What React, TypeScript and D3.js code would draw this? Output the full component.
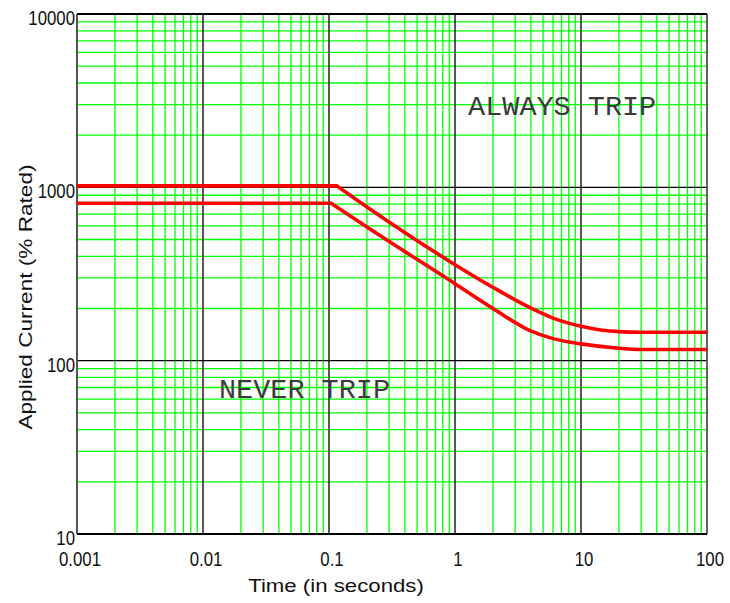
import React from "react";
import * as d3 from "d3";

const xTickValues = [0.001, 0.01, 0.1, 1, 10, 100];
const xTickLabels = ["0.001", "0.01", "0.1", "1", "10", "100"];
const yTickValues = [10, 100, 1000, 10000];
const yTickLabels = ["10", "100", "1000", "10000"];

// Upper trip curve (time s, current %)
const upperTime = [0.001, 0.115, 0.2, 1, 1.98, 3.95, 6, 10, 20, 30, 100];
const upperCurrent = [1020, 1020, 771, 358, 266, 202, 176, 158, 147, 146, 146];
// Lower trip curve
const lowerTime = [0.001, 0.104, 0.2, 1, 1.98, 3.94, 6, 10, 20, 30, 100];
const lowerCurrent = [810, 810, 590, 278, 201, 149, 134, 125, 118, 116, 116];

const annotations = [
  { text: "ALWAYS TRIP", t: 1.27, i: 2600 },
  { text: "NEVER TRIP", t: 0.0134, i: 61 },
];

const W = 730;
const H = 603;
const margin = { left: 77, right: 23, top: 14, bottom: 69 };

export default function App() {
  const x = d3
    .scaleLog()
    .domain([0.001, 100])
    .range([margin.left, W - margin.right]);
  const y = d3
    .scaleLog()
    .domain([10, 10000])
    .range([H - margin.bottom, margin.top]);

  const minorX = x.ticks().filter((v) => !xTickValues.some((m) => Math.abs(v / m - 1) < 1e-6));
  const minorY = y.ticks().filter((v) => !yTickValues.some((m) => Math.abs(v / m - 1) < 1e-6));

  const mono = d3
    .line<[number, number]>()
    .x((d) => x(d[0]))
    .y((d) => y(d[1]))
    .curve(d3.curveMonotoneX);

  // flat segment drawn straight, then smooth curve from the corner on
  const curvePath = (ts: number[], is: number[]) => {
    const pts = ts.map((t, k) => [t, is[k]] as [number, number]);
    const rest = mono(pts.slice(1)) || "";
    return `M${x(pts[0][0])},${y(pts[0][1])}` + rest.replace(/^M/, "L");
  };

  const [x0, x1] = x.range();
  const [y0, y1] = y.range();

  return (
    <svg
      width={W}
      height={H}
      style={{ position: "absolute", left: 0, top: 0, background: "#fff" }}
    >
      <rect x={0} y={0} width={W} height={H} fill="#fff" />
      {/* minor grid */}
      {minorX.map((v, k) => (
        <line key={"mx" + k} x1={x(v)} x2={x(v)} y1={y1} y2={y0} stroke="#00ff00" strokeWidth={1.3} />
      ))}
      {minorY.map((v, k) => (
        <line key={"my" + k} x1={x0} x2={x1} y1={y(v)} y2={y(v)} stroke="#00ff00" strokeWidth={1.3} />
      ))}
      {/* major grid */}
      {xTickValues.map((v, k) => (
        <line key={"Mx" + k} x1={x(v)} x2={x(v)} y1={y1} y2={y0} stroke="#111" strokeWidth={1.4} />
      ))}
      {yTickValues.map((v, k) => (
        <line key={"My" + k} x1={x0} x2={x1} y1={y(v)} y2={y(v)} stroke="#000" strokeWidth={1.2} />
      ))}
      {/* frame */}
      <line x1={x0} x2={x0} y1={y1} y2={y0} stroke="#555" strokeWidth={1.6} />
      <line x1={x1} x2={x1} y1={y1} y2={y0} stroke="#666" strokeWidth={1.6} />
      <line x1={x0} x2={x1} y1={y1} y2={y1} stroke="#000" strokeWidth={2.2} />
      <line x1={x0} x2={x1} y1={y0} y2={y0} stroke="#000" strokeWidth={2.2} />

      {/* curves */}
      <path d={curvePath(upperTime, upperCurrent)} fill="none" stroke="#ff0000" strokeWidth={3.6} />
      <path d={curvePath(lowerTime, lowerCurrent)} fill="none" stroke="#ff0000" strokeWidth={3.6} />

      {/* annotations */}
      {annotations.map((a, k) => (
        <text
          key={"a" + k}
          x={x(a.t)}
          y={y(a.i)}
          fontFamily="'Liberation Mono', 'Courier New', monospace"
          fontSize={28.5}
          fill="#3a3a3a"
        >
          {a.text}
        </text>
      ))}

      {/* y tick labels */}
      {yTickValues.map((v, k) => (
        <text
          key={"yl" + k}
          transform={`translate(75,${y(v) + 11}) scale(0.8,1)`}
          textAnchor="end"
          fontFamily="'Liberation Sans', Arial, sans-serif"
          fontSize={21}
          fill="#111"
        >
          {yTickLabels[k]}
        </text>
      ))}
      {/* x tick labels */}
      {xTickValues.map((v, k) => (
        <text
          key={"xl" + k}
          transform={`translate(${x(v) + 3},566) scale(0.8,1)`}
          textAnchor="middle"
          fontFamily="'Liberation Sans', Arial, sans-serif"
          fontSize={21}
          fill="#111"
        >
          {xTickLabels[k]}
        </text>
      ))}

      {/* axis titles */}
      <text
        transform={`translate(336,592) scale(1.17,1)`}
        textAnchor="middle"
        fontFamily="'Liberation Sans', Arial, sans-serif"
        fontSize={19}
        fill="#111"
      >
        Time (in seconds)
      </text>
      <text
        transform={`translate(32,297) rotate(-90) scale(1.19,1)`}
        textAnchor="middle"
        fontFamily="'Liberation Sans', Arial, sans-serif"
        fontSize={19}
        fill="#111"
      >
        Applied Current (% Rated)
      </text>
    </svg>
  );
}
